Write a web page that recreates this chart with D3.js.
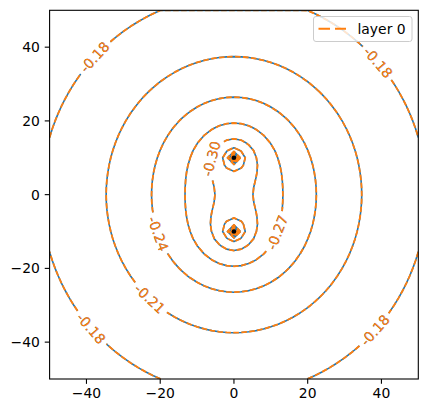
<!DOCTYPE html>
<html><head><meta charset="utf-8">
<script src="https://cdn.jsdelivr.net/npm/d3@7"></script>
<style>body{margin:0;background:#fff}svg{display:block}</style>
</head><body>
<svg id="c" width="428" height="413"></svg>
<script>
// ---------------- data ----------------
const sourceX = [0, 0];
const sourceY = [10, -10];
const fieldStrength = 0.0387;   // coefficient on ln(r1*r2)
const fieldOffset = -0.4875;
const coreRadius = 0.0785;
const gridStep = 2;
const domainMin = -50, domainMax = 50;
const levels = [-0.45, -0.42, -0.39, -0.36, -0.33, -0.30, -0.27, -0.24, -0.21, -0.18];
const labelLevels = [-0.18, -0.18, -0.18, -0.18, -0.21, -0.24, -0.27, -0.30];
const xTicks = [-40, -20, 0, 20, 40];
const yTicks = [-40, -20, 0, 20, 40];
const legendLabels = ["layer 0"];

// ---------------- layout ----------------
const labelAnchors = [[-38.2, 37.7], [39, 35.8], [-38.5, -36], [37.7, -36.3],
                      [-22.8, -28.2], [-20.6, -10.6], [11.9, -10.3], [-6.5, 9.8]];
const L = 49.6, R = 418.3, T = 10.3, B = 379;
const blue = "#1f77b4", orange = "#ff7f0e";
const font = "DejaVu Sans, sans-serif";
const fs = 13.9;

const x = d3.scaleLinear().domain([domainMin, domainMax]).range([L, R]);
const y = d3.scaleLinear().domain([domainMin, domainMax]).range([B, T]);
const svg = d3.select("#c");

// ---------------- field grid ----------------
const gx = d3.range(domainMin, domainMax + 1e-9, gridStep);
const n = gx.length;
const values = new Array(n * n);
for (let j = 0; j < n; j++) for (let i = 0; i < n; i++) {
  let prod = 1;
  for (let k = 0; k < sourceX.length; k++) {
    const r = Math.max(coreRadius, Math.hypot(gx[i] - sourceX[k], gx[j] - sourceY[k]));
    prod *= r;
  }
  values[j * n + i] = -(fieldStrength * Math.log(prod) + fieldOffset);
}
const contours = d3.contours().size([n, n]).thresholds(levels.map(l => -l))(values);

const toPx = p => [x(domainMin + (p[0] - 0.5) * gridStep), y(domainMin + (p[1] - 0.5) * gridStep)];
const onBorder = p => p[0] === 0 || p[0] === n || p[1] === 0 || p[1] === n;

// polylines per level
const lines = new Map();
levels.forEach(l => lines.set(l, []));
contours.forEach(c => {
  const lev = levels.find(l => Math.abs(-l - c.value) < 1e-9);
  const arr = lines.get(lev);
  c.coordinates.forEach(poly => poly.forEach(ring => {
    const hasBorder = ring.some(onBorder);
    if (!hasBorder) { arr.push({pts: ring.map(toPx), closed: true}); return; }
    const pieces = []; let cur = [];
    ring.forEach(p => {
      if (onBorder(p)) { if (cur.length > 1) pieces.push(cur); cur = []; }
      else cur.push(p);
    });
    if (cur.length > 1) pieces.push(cur);
    if (!onBorder(ring[0]) && pieces.length > 1) {
      const last = pieces.pop();
      pieces[0] = last.concat(pieces[0].slice(1));
    }
    pieces.forEach(pc => arr.push({pts: pc.map(toPx), closed: false}));
  }));
});

// ---------------- label placement ----------------
function cum(pts) { const s = [0]; for (let i = 1; i < pts.length; i++) s.push(s[i-1] + Math.hypot(pts[i][0]-pts[i-1][0], pts[i][1]-pts[i-1][1])); return s; }
function pointAt(pts, s, d) {
  if (d <= 0) return pts[0].slice();
  if (d >= s[s.length-1]) return pts[pts.length-1].slice();
  let i = d3.bisectRight(s, d) - 1;
  const t = (d - s[i]) / (s[i+1] - s[i] || 1);
  return [pts[i][0] + t*(pts[i+1][0]-pts[i][0]), pts[i][1] + t*(pts[i+1][1]-pts[i][1])];
}
function nearest(pts, q) {
  let best = 1e9, bi = 0, bt = 0;
  for (let i = 0; i < pts.length - 1; i++) {
    const a = pts[i], b = pts[i+1];
    const dx = b[0]-a[0], dy = b[1]-a[1]; const l2 = dx*dx + dy*dy || 1;
    let t = ((q[0]-a[0])*dx + (q[1]-a[1])*dy) / l2; t = Math.max(0, Math.min(1, t));
    const d = Math.hypot(a[0]+t*dx-q[0], a[1]+t*dy-q[1]);
    if (d < best) { best = d; bi = i; bt = t; }
  }
  return {d: best, i: bi, t: bt};
}
const meas = svg.append("text").attr("font-family", font).attr("font-size", fs);
const fmt = v => v.toFixed(2);
const labels = [];
labelLevels.forEach((lev, li) => {
  const q = [x(labelAnchors[li][0]), y(labelAnchors[li][1])];
  const arr = lines.get(lev);
  let bestK = -1, bestN = null;
  arr.forEach((ln, k) => { const nr = nearest(ln.pts, q); if (!bestN || nr.d < bestN.d) { bestN = nr; bestK = k; } });
  if (bestK < 0) return;
  let ln = arr[bestK];
  let pts = ln.pts;
  let s = cum(pts);
  let s0 = s[bestN.i] + bestN.t * (s[bestN.i+1] - s[bestN.i]);
  const txt = fmt(lev);
  meas.text(txt);
  const w = meas.node().getComputedTextLength();
  const h = w / 2 + 4;
  if (ln.closed) {
    const Ltot = s[s.length-1];
    const target = pointAt(pts, s, s0);
    const sStart = (s0 + Ltot / 2) % Ltot;
    const p0 = pointAt(pts, s, sStart);
    const i0 = d3.bisectRight(s, sStart) - 1;
    const ring = pts.slice(0, pts.length - 1);
    const np = [p0];
    for (let k = 1; k <= ring.length; k++) np.push(ring[(i0 + k) % ring.length]);
    np.push(p0);
    pts = np; s = cum(pts);
    const nr = nearest(pts, target);
    s0 = s[nr.i] + nr.t * (s[nr.i+1] - s[nr.i]);
  }
  const c = pointAt(pts, s, s0);
  const pa = pointAt(pts, s, s0 - w/2), pb = pointAt(pts, s, s0 + w/2);
  let ang = Math.atan2(pb[1]-pa[1], pb[0]-pa[0]) * 180 / Math.PI;
  if (ang > 90) ang -= 180; if (ang <= -90) ang += 180;
  labels.push({x: c[0], y: c[1], ang, txt});
  const a = s0 - h, b = s0 + h;
  const before = [], after = [];
  for (let i = 0; i < pts.length; i++) { if (s[i] < a) before.push(pts[i]); }
  if (a > 0) before.push(pointAt(pts, s, a));
  if (b < s[s.length-1]) after.push(pointAt(pts, s, b));
  for (let i = 0; i < pts.length; i++) { if (s[i] > b) after.push(pts[i]); }
  const newPieces = [];
  if (before.length > 1) newPieces.push({pts: before, closed: false});
  if (after.length > 1) newPieces.push({pts: after, closed: false});
  arr.splice(bestK, 1, ...newPieces);
});
meas.remove();

// ---------------- drawing ----------------
svg.append("defs").append("clipPath").attr("id", "clip")
  .append("rect").attr("x", L).attr("y", T).attr("width", R - L).attr("height", B - T);
const g = svg.append("g").attr("clip-path", "url(#clip)");
const lineGen = d3.line();
const allLines = [];
levels.forEach(l => lines.get(l).forEach(ln => allLines.push(ln)));
g.selectAll("path.b").data(allLines).join("path")
  .attr("d", d => lineGen(d.pts)).attr("fill", "none").attr("stroke", blue)
  .attr("stroke-width", 1.6).attr("stroke-linejoin", "round");
g.selectAll("path.o").data(allLines).join("path")
  .attr("d", d => lineGen(d.pts)).attr("fill", "none").attr("stroke", orange)
  .attr("stroke-width", 1.8).attr("stroke-dasharray", "5.6,2.4").attr("stroke-linejoin", "round");

// source markers
g.selectAll("circle.src").data(sourceX.map((v, i) => [v, sourceY[i]])).join("circle")
  .attr("cx", d => x(d[0])).attr("cy", d => y(d[1])).attr("r", 2.3).attr("fill", "#000");

// labels (blue set then orange set)
[blue, orange].forEach(col => {
  g.selectAll(null).data(labels).join("text")
    .attr("transform", d => `translate(${d.x},${d.y}) rotate(${d.ang})`)
    .attr("text-anchor", "middle").attr("dominant-baseline", "central")
    .attr("font-family", font).attr("font-size", fs).attr("fill", col).text(d => d.txt);
});

// frame
svg.append("rect").attr("x", L).attr("y", T).attr("width", R - L).attr("height", B - T)
  .attr("fill", "none").attr("stroke", "#000").attr("stroke-width", 1.1);

// ticks
const tl = 4.86;
xTicks.forEach(t => {
  svg.append("line").attr("x1", x(t)).attr("x2", x(t)).attr("y1", B).attr("y2", B + tl).attr("stroke", "#000").attr("stroke-width", 1.1);
  svg.append("text").attr("x", x(t)).attr("y", B + tl + 3.5 + 10.8).attr("text-anchor", "middle")
    .attr("font-family", font).attr("font-size", fs).attr("fill", "#000").text(t < 0 ? "\u2212" + (-t) : String(t));
});
yTicks.forEach(t => {
  svg.append("line").attr("x1", L - tl).attr("x2", L).attr("y1", y(t)).attr("y2", y(t)).attr("stroke", "#000").attr("stroke-width", 1.1);
  svg.append("text").attr("x", L - tl - 4.86).attr("y", y(t)).attr("text-anchor", "end").attr("dominant-baseline", "central")
    .attr("font-family", font).attr("font-size", fs).attr("fill", "#000").text(t < 0 ? "\u2212" + (-t) : String(t));
});

// legend
const lg = svg.append("g");
lg.append("rect").attr("x", 313.5).attr("y", 16.5).attr("width", 98.5).attr("height", 25).attr("rx", 2.5)
  .attr("fill", "#fff").attr("fill-opacity", 0.8).attr("stroke", "#cccccc").attr("stroke-width", 1);
lg.append("line").attr("x1", 318.5).attr("x2", 346).attr("y1", 28.7).attr("y2", 28.7)
  .attr("stroke", orange).attr("stroke-width", 2).attr("stroke-dasharray", "11.5,5");
lg.append("text").attr("x", 357.5).attr("y", 29).attr("dominant-baseline", "central")
  .attr("font-family", font).attr("font-size", fs).attr("fill", "#000").text(legendLabels[0]);
</script>
</body></html>
